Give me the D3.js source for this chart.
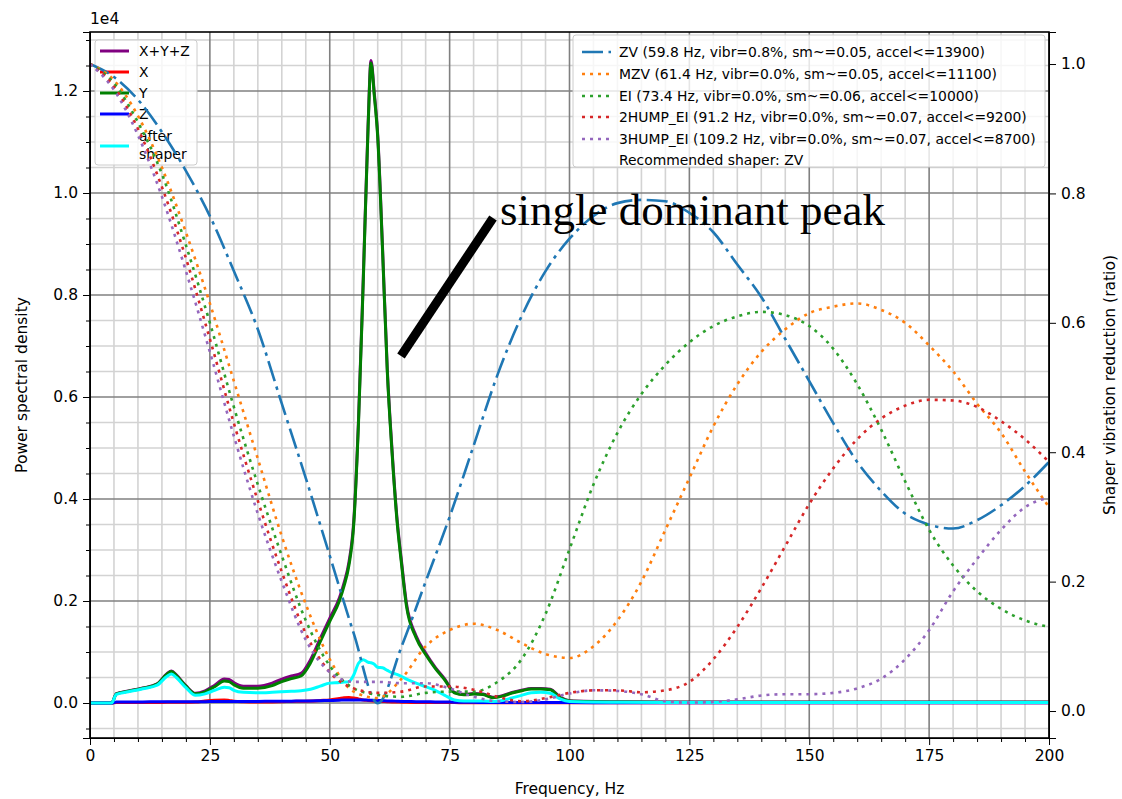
<!DOCTYPE html>
<html>
<head>
<meta charset="utf-8">
<script src="https://cdn.jsdelivr.net/npm/d3@7"></script>
<style>
  body { margin: 0; background: #fff; }
  svg { font-family: "DejaVu Sans", sans-serif; }
</style>
</head>
<body>
<div id="chart"></div>
<script>
// ---- data ----
// PSD frequencies (Hz)
var psdFreqs = [0, 4.5, 5.5, 8, 11, 14, 16, 17, 18, 20, 22, 24, 26, 28, 29, 30, 32, 35, 38, 40, 42, 44, 46, 48, 50, 52, 53, 54, 55, 56, 57, 58, 58.6, 59.3, 60, 61, 62, 63, 64, 65, 66, 68, 70, 72, 74, 76, 78, 80, 82, 84, 86, 88, 90, 92, 94, 96, 98, 100, 110, 120, 140, 160, 180, 200];

var psdAll = [0, 0, 185, 235, 295, 375, 570, 630, 550, 340, 190, 240, 350, 470, 460, 400, 330, 330, 390, 470, 530, 580, 850, 1260, 1660, 2060, 2360, 2760, 3560, 5560, 8360, 11350, 12600, 11950, 11150, 8950, 6550, 4950, 3650, 2750, 1950, 1320, 980, 700, 470, 210, 170, 185, 175, 115, 145, 205, 250, 285, 285, 270, 120, 45, 25, 20, 20, 20, 20, 20];
var psdX =   [0, 0, 10, 10, 10, 10, 15, 15, 15, 15, 20, 40, 55, 60, 50, 35, 25, 20, 20, 25, 30, 35, 40, 50, 60, 90, 105, 110, 100, 80, 60, 50, 45, 40, 35, 30, 25, 20, 20, 15, 15, 10, 10, 10, 10, 10, 5, 5, 5, 5, 5, 5, 5, 5, 5, 5, 5, 5, 5, 5, 5, 5, 5, 5];
var psdY =   [0, 0, 180, 230, 290, 370, 560, 620, 540, 330, 180, 220, 320, 430, 420, 360, 290, 290, 340, 420, 480, 530, 790, 1200, 1600, 2000, 2300, 2700, 3500, 5500, 8300, 11300, 12550, 11900, 11100, 8900, 6500, 4900, 3600, 2700, 1900, 1280, 950, 680, 450, 200, 160, 175, 165, 105, 135, 195, 240, 275, 275, 260, 110, 40, 20, 15, 15, 15, 15, 15];
var psdZ =   [0, 0, 20, 20, 20, 25, 25, 25, 25, 25, 25, 25, 30, 30, 30, 30, 30, 30, 35, 35, 35, 40, 40, 45, 50, 55, 60, 60, 60, 60, 60, 55, 55, 50, 50, 45, 40, 40, 35, 30, 30, 25, 25, 20, 20, 15, 15, 15, 10, 10, 10, 10, 10, 10, 10, 10, 10, 10, 5, 5, 5, 5, 5, 5];
var psdShaped = [0, 0, 170, 220, 280, 350, 520, 570, 500, 300, 150, 180, 250, 310, 300, 250, 210, 200, 210, 220, 230, 240, 270, 330, 390, 400, 410, 420, 550, 780, 850, 800, 790, 760, 700, 690, 640, 590, 560, 520, 470, 390, 320, 250, 150, 60, 40, 40, 40, 30, 50, 100, 150, 200, 210, 190, 80, 30, 15, 10, 10, 10, 10, 10];

// shaper response frequencies (Hz)
var shaperFreqs = [0, 5, 10, 15, 20, 25, 30, 35, 40, 45, 50, 55, 60, 65, 70, 75, 80, 85, 90, 95, 100, 105, 110, 115, 120, 125, 130, 135, 140, 145, 150, 155, 160, 165, 170, 175, 180, 185, 190, 195, 200];

var zvVals =    [1.0, 0.98, 0.945, 0.895, 0.835, 0.765, 0.68, 0.59, 0.475, 0.36, 0.24, 0.12, 0.012, 0.1, 0.2, 0.3, 0.41, 0.52, 0.61, 0.68, 0.73, 0.765, 0.785, 0.79, 0.788, 0.77, 0.74, 0.69, 0.64, 0.575, 0.51, 0.445, 0.385, 0.34, 0.305, 0.288, 0.282, 0.295, 0.318, 0.348, 0.385];
var mzvVals =   [1.0, 0.975, 0.92, 0.84, 0.74, 0.63, 0.51, 0.39, 0.27, 0.165, 0.08, 0.03, 0.02, 0.05, 0.1, 0.125, 0.135, 0.125, 0.105, 0.088, 0.082, 0.1, 0.14, 0.2, 0.28, 0.36, 0.44, 0.505, 0.555, 0.59, 0.615, 0.625, 0.63, 0.62, 0.6, 0.565, 0.525, 0.475, 0.43, 0.37, 0.315];
var eiVals =    [1.0, 0.97, 0.91, 0.83, 0.72, 0.6, 0.47, 0.35, 0.24, 0.14, 0.07, 0.035, 0.025, 0.022, 0.028, 0.03, 0.03, 0.045, 0.08, 0.15, 0.25, 0.35, 0.43, 0.49, 0.535, 0.57, 0.595, 0.61, 0.617, 0.612, 0.595, 0.56, 0.505, 0.435, 0.355, 0.28, 0.225, 0.185, 0.158, 0.14, 0.13];
var hump2Vals = [1.0, 0.965, 0.9, 0.81, 0.7, 0.575, 0.445, 0.325, 0.215, 0.12, 0.06, 0.035, 0.028, 0.03, 0.038, 0.038, 0.033, 0.022, 0.015, 0.02, 0.028, 0.032, 0.032, 0.029, 0.032, 0.045, 0.08, 0.13, 0.19, 0.255, 0.32, 0.375, 0.42, 0.452, 0.472, 0.481, 0.48, 0.47, 0.448, 0.42, 0.385];
var hump3Vals = [1.0, 0.96, 0.89, 0.795, 0.68, 0.555, 0.425, 0.305, 0.2, 0.11, 0.06, 0.045, 0.045, 0.043, 0.043, 0.035, 0.022, 0.015, 0.014, 0.018, 0.027, 0.032, 0.031, 0.026, 0.015, 0.013, 0.014, 0.018, 0.024, 0.026, 0.026, 0.028, 0.035, 0.05, 0.08, 0.125, 0.185, 0.235, 0.28, 0.315, 0.33];

var psdNames = ["X+Y+Z", "X", "Y", "Z"];
var shaperNames = [
  "ZV (59.8 Hz, vibr=0.8%, sm~=0.05, accel<=13900)",
  "MZV (61.4 Hz, vibr=0.0%, sm~=0.05, accel<=11100)",
  "EI (73.4 Hz, vibr=0.0%, sm~=0.06, accel<=10000)",
  "2HUMP_EI (91.2 Hz, vibr=0.0%, sm~=0.07, accel<=9200)",
  "3HUMP_EI (109.2 Hz, vibr=0.0%, sm~=0.07, accel<=8700)"
];
var xTicks = [0, 25, 50, 75, 100, 125, 150, 175, 200];
var yLeftTicks = [0, 2000, 4000, 6000, 8000, 10000, 12000];
var yRightTicks = [0, 0.2, 0.4, 0.6, 0.8, 1.0];

// ---- layout ----
var margin = {top: 32, right: 73, bottom: 61, left: 90},
    width = 1122 - margin.left - margin.right,
    height = 799 - margin.top - margin.bottom;

var svg = d3.select("#chart")
  .append("svg")
    .attr("width", 1122)
    .attr("height", 799)
  .append("g")
    .attr("transform", "translate(" + margin.left + "," + margin.top + ")");

var x = d3.scaleLinear().domain([0, 200]).range([0, width]);
var y = d3.scaleLinear().domain([-686, 13157]).range([height, 0]);
var y2 = d3.scaleLinear().domain([-0.0417, 1.0495]).range([height, 0]);

// grid: minor first, then major
var xMinor = d3.range(0, 201, 5).filter(function(d){ return d % 25 != 0 });
var yMinor = d3.range(-500, 13001, 500).filter(function(d){ return d % 2000 != 0 });

svg.append("g").selectAll("line").data(xMinor).enter().append("line")
  .attr("x1", function(d){ return x(d) }).attr("x2", function(d){ return x(d) })
  .attr("y1", 0).attr("y2", height)
  .attr("stroke", "#d3d3d3").attr("stroke-width", 1.6);
svg.append("g").selectAll("line").data(yMinor).enter().append("line")
  .attr("y1", function(d){ return y(d) }).attr("y2", function(d){ return y(d) })
  .attr("x1", 0).attr("x2", width)
  .attr("stroke", "#d3d3d3").attr("stroke-width", 1.6);
svg.append("g").selectAll("line").data(xTicks).enter().append("line")
  .attr("x1", function(d){ return x(d) }).attr("x2", function(d){ return x(d) })
  .attr("y1", 0).attr("y2", height)
  .attr("stroke", "#808080").attr("stroke-width", 1.6);
svg.append("g").selectAll("line").data(yLeftTicks).enter().append("line")
  .attr("y1", function(d){ return y(d) }).attr("y2", function(d){ return y(d) })
  .attr("x1", 0).attr("x2", width)
  .attr("stroke", "#808080").attr("stroke-width", 1.6);

// PSD lines
var psdLine = d3.line()
  .x(function(d){ return x(d[0]) })
  .y(function(d){ return y(d[1]) })
  .curve(d3.curveMonotoneX);

var psdSeries = [
  {name: "X+Y+Z", vals: psdAll, color: "#800080"},
  {name: "X", vals: psdX, color: "#ff0000"},
  {name: "Y", vals: psdY, color: "#008000"},
  {name: "Z", vals: psdZ, color: "#0000ff"},
  {name: "after shaper", vals: psdShaped, color: "#00ffff"}
];

svg.selectAll("psdLines")
  .data(psdSeries)
  .enter()
  .append("path")
    .attr("d", function(s){ return psdLine(psdFreqs.map(function(f, i){ return [f, s.vals[i]] })) })
    .attr("fill", "none")
    .attr("stroke", function(s){ return s.color })
    .attr("stroke-width", 3)
    .attr("stroke-linejoin", "round");

// left legend (belongs to the PSD axes, so shaper curves go over it)
var legL = svg.append("g").attr("transform", "translate(5,8)");
legL.append("rect")
  .attr("width", 102).attr("height", 125).attr("rx", 3)
  .attr("fill", "white").attr("fill-opacity", 0.8)
  .attr("stroke", "#cccccc");
var legLRows = [11, 32, 53, 74, 106];
legL.selectAll("legLines").data(psdSeries).enter().append("line")
  .attr("x1", 5).attr("x2", 34)
  .attr("y1", function(d, i){ return legLRows[i] })
  .attr("y2", function(d, i){ return legLRows[i] })
  .attr("stroke", function(d){ return d.color })
  .attr("stroke-width", 3);
legL.selectAll("legText").data(psdNames).enter().append("text")
  .attr("x", 44)
  .attr("y", function(d, i){ return legLRows[i] + 5 })
  .attr("font-size", 13.9)
  .text(function(d){ return d });
var afterTxt = legL.append("text").attr("font-size", 13.9).attr("x", 44);
afterTxt.append("tspan").attr("x", 44).attr("y", 101).text("after");
afterTxt.append("tspan").attr("x", 44).attr("y", 119).text("shaper");

// shaper curves on the ratio axis
var shLine = d3.line()
  .x(function(d){ return x(d[0]) })
  .y(function(d){ return y2(d[1]) })
  .curve(d3.curveMonotoneX);

var shaperSeries = [
  {vals: zvVals, color: "#1f77b4", dash: "21,5.5,3.4,5.5"},
  {vals: mzvVals, color: "#ff7f0e", dash: "3,5"},
  {vals: eiVals, color: "#2ca02c", dash: "3,5"},
  {vals: hump2Vals, color: "#d62728", dash: "3,5"},
  {vals: hump3Vals, color: "#9467bd", dash: "3,5"}
];

svg.selectAll("shaperLines")
  .data(shaperSeries)
  .enter()
  .append("path")
    .attr("d", function(s){ return shLine(shaperFreqs.map(function(f, i){ return [f, s.vals[i]] })) })
    .attr("fill", "none")
    .attr("stroke", function(s){ return s.color })
    .attr("stroke-width", 2.6)
    .attr("stroke-dasharray", function(s){ return s.dash });

// right legend
var legR = svg.append("g").attr("transform", "translate(" + (width - 476) + ",3)");
legR.append("rect")
  .attr("width", 472).attr("height", 132).attr("rx", 3)
  .attr("fill", "white").attr("fill-opacity", 0.8)
  .attr("stroke", "#cccccc");
var legRRows = [17, 39, 61, 82, 104, 125];
legR.selectAll("legLines").data(shaperSeries).enter().append("line")
  .attr("x1", 9).attr("x2", 38)
  .attr("y1", function(d, i){ return legRRows[i] })
  .attr("y2", function(d, i){ return legRRows[i] })
  .attr("stroke", function(d){ return d.color })
  .attr("stroke-width", 2.6)
  .attr("stroke-dasharray", function(d){ return d.dash });
legR.selectAll("legText").data(shaperNames.concat(["Recommended shaper: ZV"])).enter().append("text")
  .attr("x", 46)
  .attr("y", function(d, i){ return legRRows[i] + 5 })
  .attr("font-size", 13.9)
  .text(function(d){ return d });

// axes
svg.append("g")
  .attr("transform", "translate(0," + height + ")")
  .call(d3.axisBottom(x).tickValues(xTicks).tickSize(7).tickPadding(5).tickFormat(d3.format("d")))
  .call(function(g){ g.selectAll("text").attr("font-size", 15.5).attr("font-family", "DejaVu Sans") });
svg.append("g")
  .attr("transform", "translate(0," + height + ")")
  .call(d3.axisBottom(x).tickValues(xMinor).tickSize(4).tickFormat(""))
  .call(function(g){ g.select(".domain").remove() });

svg.append("g")
  .call(d3.axisLeft(y).tickValues(yLeftTicks).tickSize(7).tickPadding(5)
    .tickFormat(function(d){ return d3.format(".1f")(d / 1e4) }))
  .call(function(g){ g.selectAll("text").attr("font-size", 15.5).attr("font-family", "DejaVu Sans") });
svg.append("g")
  .call(d3.axisLeft(y).tickValues(yMinor).tickSize(4).tickFormat(""))
  .call(function(g){ g.select(".domain").remove() });

svg.append("g")
  .attr("transform", "translate(" + width + ",0)")
  .call(d3.axisRight(y2).tickValues(yRightTicks).tickSize(7).tickPadding(5).tickFormat(d3.format(".1f")))
  .call(function(g){ g.selectAll("text").attr("font-size", 15.5).attr("font-family", "DejaVu Sans") });

// frame
svg.append("rect")
  .attr("width", width).attr("height", height)
  .attr("fill", "none").attr("stroke", "black").attr("stroke-width", 1.6);

// offset text and labels
svg.append("text")
  .attr("x", 0).attr("y", -8)
  .attr("font-size", 15.5)
  .text("1e4");

svg.append("text")
  .attr("text-anchor", "middle")
  .attr("x", width / 2)
  .attr("y", height + 56)
  .attr("font-size", 15.5)
  .text("Frequency, Hz");

svg.append("text")
  .attr("text-anchor", "middle")
  .attr("transform", "translate(-63," + (height / 2) + ") rotate(-90)")
  .attr("font-size", 15.5)
  .text("Power spectral density");

svg.append("text")
  .attr("text-anchor", "middle")
  .attr("transform", "translate(" + (width + 66) + "," + (height / 2) + ") rotate(-90)")
  .attr("font-size", 15.5)
  .text("Shaper vibration reduction (ratio)");

// annotation pointing at the peak
svg.append("line")
  .attr("x1", 311).attr("y1", 324)
  .attr("x2", 403).attr("y2", 186)
  .attr("stroke", "black").attr("stroke-width", 9);
svg.append("text")
  .attr("x", 410).attr("y", 193)
  .attr("font-family", "Liberation Serif, serif")
  .attr("font-size", 45)
  .text("single dominant peak");
</script>
</body>
</html>
